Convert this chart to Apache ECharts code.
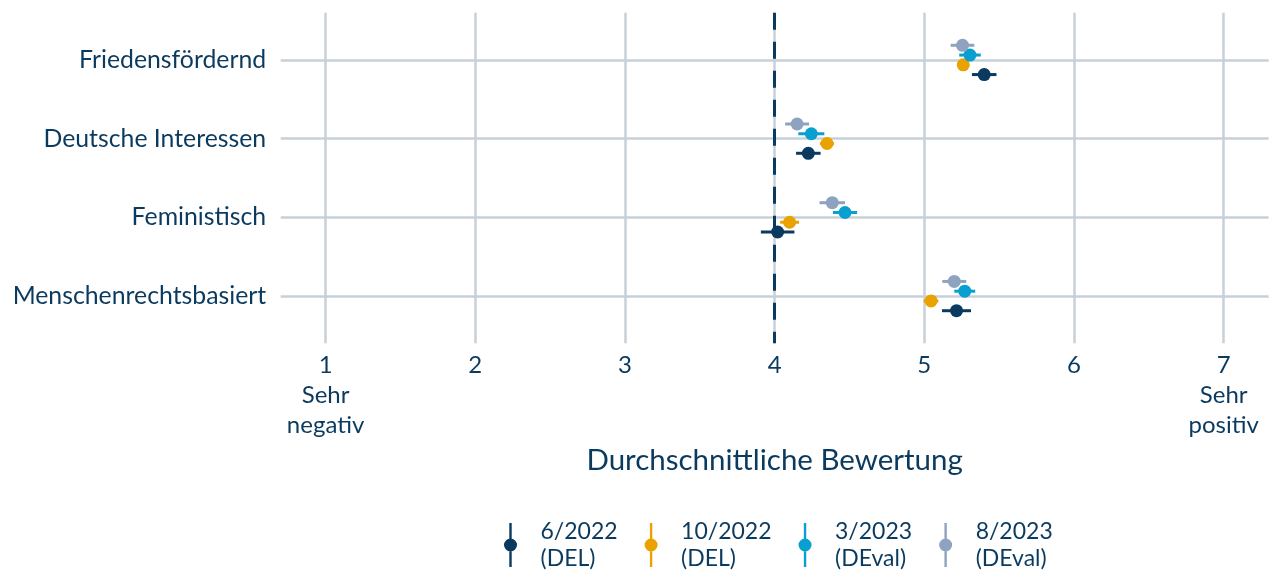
<!DOCTYPE html>
<html>
<head>
<meta charset="utf-8">
<script src="https://cdn.jsdelivr.net/npm/echarts@6/dist/echarts.min.js"></script>
<style>
  html, body { margin: 0; padding: 0; background: #ffffff; }
  #chart { width: 1271px; height: 573px; }
</style>
</head>
<body>
<div id="chart"></div>
<script>
// Statements rated on a 1–7 scale; mean and 95% interval half-width per survey wave.
const categories = ['Friedensfördernd', 'Deutsche Interessen', 'Feministisch', 'Menschenrechtsbasiert'];
const waveNames = ['6/2022\n(DEL)', '10/2022\n(DEL)', '3/2023\n(DEval)', '8/2023\n(DEval)'];
const waveColors = ['#0a3a60', '#e9a200', '#08a0d0', '#8ea3bf'];

const mean_6_2022  = [5.40, 4.225, 4.02, 5.215];
const err_6_2022   = [0.082, 0.082, 0.112, 0.097];
const mean_10_2022 = [5.26, 4.35, 4.10, 5.045];
const err_10_2022  = [0.04, 0.047, 0.063, 0.049];
const mean_3_2023  = [5.305, 4.245, 4.47, 5.27];
const err_3_2023   = [0.072, 0.087, 0.081, 0.07];
const mean_8_2023  = [5.255, 4.15, 4.385, 5.20];
const err_8_2023   = [0.079, 0.08, 0.085, 0.08];

const xTickValues = [1, 2, 3, 4, 5, 6, 7];
const xTickLabels = ['1\nSehr\nnegativ', '2', '3', '4', '5', '6', '7\nSehr\npositiv'];
const midpoint = 4;

const means = [mean_6_2022, mean_10_2022, mean_3_2023, mean_8_2023];
const errs = [err_6_2022, err_10_2022, err_3_2023, err_8_2023];

const FONT = 'Lato';
const TEXT = '#0b3a5f';
const GRID = '#c7d0d8';
const DODGE = 0.124;

function renderPoint(params, api) {
  const x = api.value(0), y = api.value(1), lo = api.value(2), hi = api.value(3);
  const c = api.coord([x, y]);
  const a = api.coord([lo, y]);
  const b = api.coord([hi, y]);
  const color = api.visual('color');
  return {
    type: 'group',
    children: [
      { type: 'line', shape: { x1: a[0], y1: a[1], x2: b[0], y2: b[1] },
        style: { stroke: color, lineWidth: 3 } },
      { type: 'circle', shape: { cx: c[0], cy: c[1], r: 6.5 },
        style: { fill: color } }
    ]
  };
}

const series = waveNames.map((name, s) => ({
  name: name,
  type: 'custom',
  renderItem: renderPoint,
  itemStyle: { color: waveColors[s] },
  encode: { x: [0, 2, 3], y: 1 },
  z: 3,
  data: categories.map((cat, i) => {
    const m = means[s][i], e = errs[s][i];
    return [m, i + (1.5 - s) * DODGE, m - e, m + e];
  })
}));

// dashed reference line at the scale midpoint
series.push({
  type: 'line',
  data: [],
  markLine: {
    silent: true,
    symbol: 'none',
    label: { show: false },
    lineStyle: { color: '#0a3a60', width: 3, type: [17, 12] },
    data: [{ xAxis: midpoint }]
  },
  z: 2
});

// legend glyph: vertical bar with a dot in the middle
const legendIcon = 'path://M5.8,0 L8.2,0 L8.2,44 L5.8,44 Z M7,15.5 A6.5,6.5 0 1 1 6.99,15.5 Z';

const chart = echarts.init(document.getElementById('chart'), null, { renderer: 'canvas' });
chart.setOption({
  animation: false,
  textStyle: { fontFamily: FONT, color: TEXT },
  grid: { left: 280.7, right: 2.4, top: 12.7, bottom: 229.7, containLabel: false },
  xAxis: {
    type: 'value',
    min: 0.7,
    max: 7.3,
    axisLine: { show: false },
    axisTick: { show: false, customValues: xTickValues },
    axisLabel: {
      customValues: xTickValues,
      formatter: v => xTickLabels[xTickValues.indexOf(v)],
      color: TEXT, fontFamily: FONT, fontSize: 24, lineHeight: 30, margin: 7
    },
    splitLine: { show: true, lineStyle: { color: GRID, width: 2.5 } },
    name: 'Durchschnittliche Bewertung',
    nameLocation: 'middle',
    nameGap: 98,
    nameTextStyle: { color: TEXT, fontFamily: FONT, fontSize: 29.5 }
  },
  yAxis: {
    type: 'value',
    inverse: true,
    min: -0.6,
    max: 3.6,
    axisLine: { show: false },
    axisTick: { show: false, customValues: [0, 1, 2, 3] },
    axisLabel: {
      customValues: [0, 1, 2, 3],
      formatter: v => categories[v],
      color: TEXT, fontFamily: FONT, fontSize: 24.8, margin: 14.5
    },
    splitLine: { show: true, lineStyle: { color: GRID, width: 2.5 } }
  },
  legend: {
    data: waveNames,
    left: 499,
    top: 513,
    orient: 'horizontal',
    icon: legendIcon,
    itemWidth: 14,
    itemHeight: 44,
    itemGap: 27,
    textStyle: { color: TEXT, fontFamily: FONT, fontSize: 23, lineHeight: 27, padding: [0, 0, 0, 18] }
  },
  series: series
});
</script>
</body>
</html>
